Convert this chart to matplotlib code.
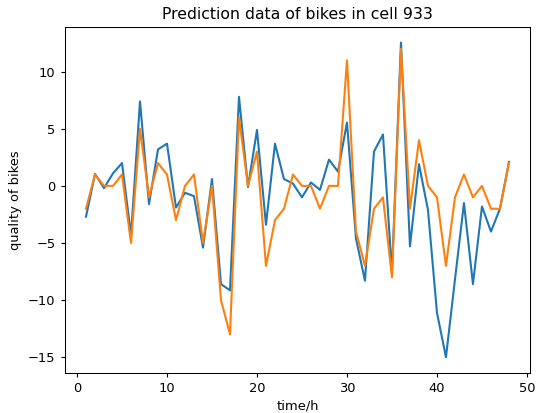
import matplotlib
matplotlib.use('Agg')
import matplotlib.pyplot as plt

hours = list(range(1, 49))

real = [-2.7, 1.05, -0.2, 1.1, 2.0, -4.3, 7.4, -1.6, 3.2, 3.7,
        -1.9, -0.6, -0.9, -5.4, 0.6, -8.6, -9.15, 7.8, -0.1, 4.9,
        -3.4, 3.7, 0.6, 0.2, -1.0, 0.3, -0.35, 2.3, 1.25, 5.55,
        -4.6, -8.3, 3.0, 4.5, -7.6, 12.55, -5.3, 1.9, -2.1, -11.1,
        -15.0, -8.2, -1.5, -8.6, -1.8, -4.0, -2.0, 2.1]

pred = [-2, 1, 0, 0, 1, -5, 5, -1, 2, 1,
        -3, 0, 1, -5, 0, -10, -13, 6, 0, 3,
        -7, -3, -2, 1, 0, 0, -2, 0, 0, 11,
        -4, -7, -2, -1, -8, 12, -2, 4, 0, -1,
        -7, -1, 1, -1, 0, -2, -2, 2]

plt.rcParams['font.size'] = 9.4
plt.rcParams['xtick.major.size'] = 3.2
plt.rcParams['ytick.major.size'] = 3.2
plt.rcParams['axes.linewidth'] = 0.75

fig, ax = plt.subplots(figsize=(5.36, 4.13), dpi=100)
fig.subplots_adjust(left=0.121, right=0.989, top=0.935, bottom=0.097)

ax.plot(hours, real, linewidth=1.5)
ax.plot(hours, pred, linewidth=1.5)
ax.set_title('Prediction data of bikes in cell 933', fontsize=11.3)
ax.set_xlabel('time/h', labelpad=3)
ax.set_ylabel('quality of bikes')

plt.savefig('out.png')
